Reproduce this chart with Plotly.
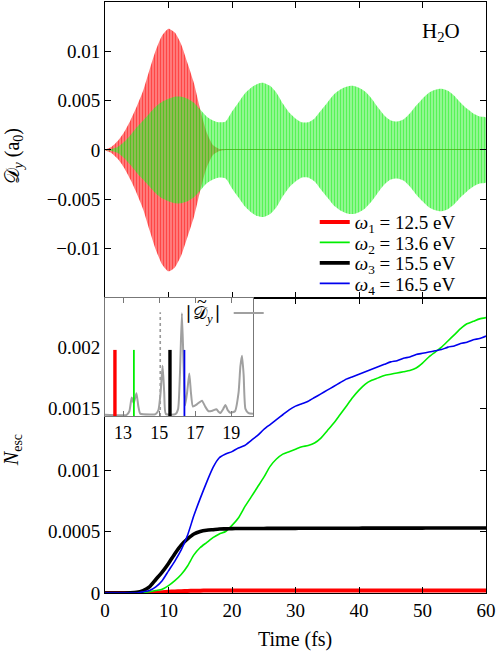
import plotly.graph_objects as go

# ---------------- data ----------------
t_fs = list(range(61))  # time grid, fs

# envelope amplitude of dipole D_y (a0), top panel
env_red = [0, 0.0003, 0.0009, 0.0018, 0.0030, 0.0044, 0.0060, 0.0081, 0.0101, 0.0116,
           0.0123, 0.0119, 0.0107, 0.0088, 0.0068, 0.0041, 0.0018, 0.0005, 0.0001, 0,
           0, 0, 0, 0, 0, 0, 0, 0, 0, 0,
           0, 0, 0, 0, 0, 0, 0, 0, 0, 0,
           0, 0, 0, 0, 0, 0, 0, 0, 0, 0,
           0, 0, 0, 0, 0, 0, 0, 0, 0, 0, 0]
env_green = [0, 0.0001, 0.0003, 0.0008, 0.0015, 0.0023, 0.0030, 0.0037, 0.0044, 0.0049,
             0.0052, 0.0054, 0.0054, 0.0052, 0.0048, 0.0041, 0.0034, 0.0030, 0.0028, 0.0029,
             0.0039, 0.0048, 0.0057, 0.0063, 0.0067, 0.0068, 0.0065, 0.0058, 0.0047, 0.0038,
             0.0032, 0.0028, 0.0028, 0.0032, 0.0040, 0.0048, 0.0056, 0.0061, 0.0064, 0.0065,
             0.0063, 0.0059, 0.0052, 0.0043, 0.0035, 0.0030, 0.0029, 0.0031, 0.0037, 0.0045,
             0.0052, 0.0058, 0.0061, 0.0062, 0.0060, 0.0055, 0.0048, 0.0042, 0.0037, 0.0034, 0.0033]

# escaped electrons N_esc, bottom panel
n_red = [0, 0, 0, 0, 0, 0, 0, 0.000001, 0.000003, 0.000006,
         0.00001, 0.000013, 0.000015, 0.000017, 0.000018, 0.000019, 0.00002, 0.00002, 0.00002, 0.00002,
         0.00002, 0.00002, 0.00002, 0.00002, 0.00002, 0.00002, 0.00002, 0.00002, 0.00002, 0.00002,
         0.00002, 0.00002, 0.00002, 0.00002, 0.00002, 0.00002, 0.00002, 0.00002, 0.00002, 0.00002,
         0.00002, 0.00002, 0.00002, 0.00002, 0.00002, 0.00002, 0.00002, 0.00002, 0.00002, 0.00002,
         0.00002, 0.00002, 0.00002, 0.00002, 0.00002, 0.00002, 0.00002, 0.00002, 0.00002, 0.00002, 0.00002]
n_green = [0, 0, 0, 0, 0, 0, 0.000005, 0.00001, 0.00002, 0.00003,
           0.00006, 0.0001, 0.00015, 0.00022, 0.00031, 0.00037, 0.00041, 0.00045, 0.00048, 0.0005,
           0.00055, 0.00061, 0.0007, 0.00078, 0.00086, 0.00094, 0.00103, 0.00109, 0.00113, 0.00115,
           0.00117, 0.00119, 0.0012, 0.00122, 0.00126, 0.00132, 0.00138, 0.00145, 0.00152, 0.00159,
           0.00165, 0.0017, 0.00173, 0.00175, 0.00177, 0.00178, 0.00179, 0.0018, 0.00181, 0.00183,
           0.00187, 0.00192, 0.00196, 0.002, 0.00205, 0.0021, 0.00215, 0.00219, 0.00221, 0.00223, 0.00224]
n_black = [0, 0, 0, 0, 0.000001, 0.000005, 0.00002, 0.00005, 0.00011, 0.00017,
           0.00024, 0.00032, 0.00039, 0.00044, 0.00048, 0.0005, 0.00051, 0.000515, 0.00052, 0.000522,
           0.000524, 0.000525, 0.000525, 0.000525, 0.000525, 0.000525, 0.000526, 0.000526, 0.000526, 0.000526,
           0.000526, 0.000527, 0.000527, 0.000527, 0.000527, 0.000527, 0.000527, 0.000527, 0.000527, 0.000527,
           0.000527, 0.000528, 0.000528, 0.000528, 0.000528, 0.000528, 0.000528, 0.000528, 0.000528, 0.000528,
           0.000528, 0.000529, 0.000529, 0.000529, 0.000529, 0.000529, 0.000529, 0.000529, 0.000529, 0.000529, 0.000529]
n_blue = [0, 0, 0, 0, 0, 0, 0.00001, 0.00002, 0.00005, 0.0001,
          0.00018, 0.00026, 0.00035, 0.00047, 0.00063, 0.00077, 0.0009, 0.00102, 0.0011, 0.00113,
          0.00115, 0.00118, 0.0012, 0.00124, 0.00128, 0.00133, 0.00137, 0.00141, 0.00145, 0.00149,
          0.00152, 0.00154, 0.00156, 0.00159, 0.00162, 0.00165, 0.00168, 0.00171, 0.00174, 0.00176,
          0.00178, 0.0018, 0.00182, 0.00184, 0.00186, 0.00188, 0.00189, 0.00191, 0.00192, 0.00194,
          0.00195, 0.00196, 0.00197, 0.00198, 0.002, 0.00201, 0.00203, 0.00204, 0.00206, 0.00207, 0.00209]

# inset: spectrum |D_y(omega)| (arb. units) and laser frequencies
spec_e = [12.0, 13.2, 13.35, 13.48, 13.59, 13.74, 13.85, 13.95, 14.5, 14.8, 14.96, 15.08, 15.19, 15.28,
          15.37, 15.9, 16.05, 16.15, 16.26, 16.36, 16.44, 16.55, 16.67, 16.76, 16.87, 17.1, 17.37,
          17.55, 17.74, 17.95, 18.17, 18.3, 18.39, 18.55, 18.67, 18.8, 18.94, 19.2, 19.4, 19.5,
          19.59, 19.68, 19.78, 19.95, 20.2]
spec_a = [0.01, 0.01, 0.04, 0.156, 0.108, 0.193, 0.08, 0.02, 0.012, 0.015, 0.05, 0.2, 0.426, 0.2,
          0.017, 0.015, 0.06, 0.35, 0.87, 0.4, 0.09, 0.2, 0.36, 0.2, 0.08, 0.1, 0.13,
          0.08, 0.04, 0.045, 0.057, 0.035, 0.025, 0.06, 0.094, 0.05, 0.028, 0.04, 0.2, 0.42,
          0.51, 0.35, 0.06, 0.025, 0.02]
omega_vals = ["12.5", "13.6", "15.5", "16.5"]
omega_marks = [12.55, 13.6, 15.6, 16.4]
mark_height = 0.56
ip_mark = 15.06
ip_height = 0.88

colors = ["#ff0000", "#00ee00", "#000000", "#0000ee"]
widths = [4, 1.6, 3.6, 1.6]
mark_widths = [3.4, 1.8, 3.4, 1.8]
legend_names = ["legend", "legend3", "legend4", "legend5"]
legend_y = [0.6277, 0.5931, 0.5584, 0.5237]
FONT = "Liberation Serif"

fig = go.Figure()

# ---------- top panel: oscillating dipole shown as striped envelopes ----------
def envelope(env):
    xs = t_fs + t_fs[::-1]
    ys = list(env) + [-v for v in env[::-1]]
    return xs, ys

xr, yr = envelope(env_red)
fig.add_trace(go.Scatter(x=xr, y=yr, xaxis="x2", yaxis="y2", fill="toself", mode="lines",
                         line=dict(width=0, shape="spline", smoothing=0.6),
                         fillcolor="rgba(255,130,130,1)",
                         fillpattern=dict(shape="|", size=3, solidity=0.5, fgcolor="#ff0000",
                                          bgcolor="rgba(255,140,140,1)"),
                         showlegend=False, hoverinfo="skip"))
xg, yg = envelope(env_green)
fig.add_trace(go.Scatter(x=xg, y=yg, xaxis="x2", yaxis="y2", fill="toself", mode="lines",
                         line=dict(width=0, shape="spline", smoothing=0.6),
                         fillcolor="rgba(60,235,60,0.5)",
                         fillpattern=dict(shape="|", size=3, solidity=0.45, fgcolor="rgba(0,240,0,0.9)",
                                          bgcolor="rgba(60,240,60,0.5)"),
                         showlegend=False, hoverinfo="skip"))

# ---------- bottom panel ----------
for k, (vals, c, w, om) in enumerate(zip([n_red, n_green, n_black, n_blue], colors, widths, omega_vals)):
    fig.add_trace(go.Scatter(x=t_fs, y=vals, xaxis="x", yaxis="y", mode="lines",
                             line=dict(color=c, width=w, shape="spline", smoothing=0.6),
                             name=f"<i>ω</i><sub>{k+1}</sub> = {om} eV", legend=legend_names[k]))

# ---------- inset ----------
fig.add_trace(go.Scatter(x=[ip_mark, ip_mark], y=[0, ip_height], xaxis="x3", yaxis="y3", mode="lines",
                         line=dict(color="#999999", width=1.6, dash="dot"), showlegend=False))
fig.add_trace(go.Scatter(x=spec_e, y=spec_a, xaxis="x3", yaxis="y3", mode="lines",
                         line=dict(color="#a0a0a0", width=2, shape="spline", smoothing=0.5),
                         name=" ", legend="legend2"))
for p, c, w in zip(omega_marks, colors, mark_widths):
    fig.add_trace(go.Scatter(x=[p, p], y=[0, mark_height], xaxis="x3", yaxis="y3", mode="lines",
                             line=dict(color=c, width=w), showlegend=False))

axis_common = dict(showline=True, linecolor="black", linewidth=1, mirror="ticks", ticks="inside",
                   ticklen=6, tickcolor="black", showgrid=False,
                   tickfont=dict(family=FONT, size=19, color="black"))

def leg(x, y, size=19):
    return dict(x=x, y=y, xanchor="left", yanchor="middle", bgcolor="rgba(0,0,0,0)",
                font=dict(family=FONT, size=size, color="black"))

def ann(text, x, y, size=20, angle=0):
    return dict(text=text, xref="paper", yref="paper", x=x, y=y, xanchor="center", yanchor="middle",
                textangle=angle, showarrow=False, font=dict(family=FONT, size=size, color="black"))

fig.update_layout(
    width=498, height=653,
    margin=dict(l=105, r=12, t=2, b=60),
    paper_bgcolor="white", plot_bgcolor="white",
    font=dict(family=FONT, size=20, color="black"),
    xaxis=dict(domain=[0, 1], anchor="y", range=[0, 60], tickvals=[0, 10, 20, 30, 40, 50, 60],
               zeroline=False, **axis_common),
    yaxis=dict(domain=[0, 0.4992], anchor="x", range=[0, 0.0024],
               tickvals=[0, 0.0005, 0.001, 0.0015, 0.002],
               ticktext=["0", "0.0005", "0.001", "0.0015", "0.002"], zeroline=False, **axis_common),
    xaxis2=dict(domain=[0, 1], anchor="y2", range=[0, 60], matches="x", showticklabels=False,
                tickvals=[0, 10, 20, 30, 40, 50, 60], zeroline=False, **axis_common),
    yaxis2=dict(domain=[0.4992, 1], anchor="x2", range=[-0.015, 0.015],
                tickvals=[-0.015, -0.01, -0.005, 0, 0.005, 0.01, 0.015],
                ticktext=["", "−0.01", "−0.005", "0", "0.005", "0.01", ""],
                zeroline=True, zerolinecolor="#8c7a2a", zerolinewidth=1.4, layer="above traces",
                **axis_common),
    xaxis3=dict(domain=[0, 0.3885], anchor="y3", range=[12, 20.2], tickvals=[13, 15, 17, 19],
                showline=True, linecolor="#777777", linewidth=1.2, mirror="ticks", ticks="inside",
                ticklen=5, tickcolor="#777777", showgrid=False, zeroline=False,
                tickfont=dict(family=FONT, size=18, color="black")),
    yaxis3=dict(domain=[0.2995, 0.4992], anchor="x3", range=[0, 1], showticklabels=False,
                showline=True, linecolor="#777777", linewidth=1.2, mirror=True, ticks="",
                showgrid=False, zeroline=False),
    legend=leg(0.5505, legend_y[0]),
    legend3=leg(0.5505, legend_y[1]),
    legend4=leg(0.5505, legend_y[2]),
    legend5=leg(0.5505, legend_y[3]),
    legend2=leg(0.3247, 0.4738, 16),
    annotations=[
        ann("H<sub>2</sub>O", 0.882, 0.949, 21),
        ann("𝒟<sub><i>y</i></sub> (a<sub>0</sub>)", -0.241, 0.739, 20, -90),
        ann("<i>N</i><sub>esc</sub>", -0.241, 0.242, 20, -90),
        ann("Time (fs)", 0.4987, -0.0795, 20),
        ann("∣𝒟<sub><i>y</i></sub>∣", 0.257, 0.4704, 18),
        ann("~", 0.2546, 0.4925, 18),
    ],
)

fig.write_html("out.html", config={"displayModeBar": False},
               post_script="document.body.style.margin='0px';")
